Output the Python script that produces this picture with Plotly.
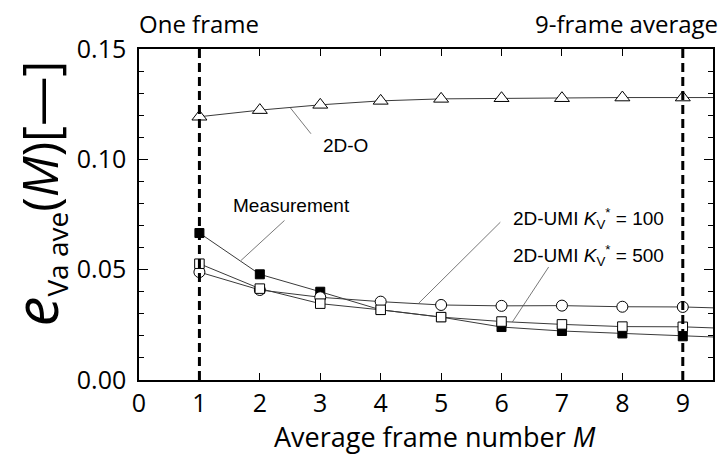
import plotly.graph_objects as go

M = [1, 2, 3, 4, 5, 6, 7, 8, 9]
M_line = [1, 2, 3, 4, 5, 6, 7, 8, 9, 9.5]

measurement = [0.0666, 0.0479, 0.0400, 0.0318, 0.0285, 0.0240, 0.0222, 0.0211, 0.0198]
measurement_tail = 0.0195
umi100 = [0.0489, 0.0408, 0.0375, 0.0355, 0.0340, 0.0336, 0.0337, 0.0332, 0.0331]
umi100_tail = 0.0327
umi500 = [0.0527, 0.0414, 0.0346, 0.0318, 0.0285, 0.0265, 0.0252, 0.0242, 0.0241]
umi500_tail = 0.0236
o2d = [0.1193, 0.1223, 0.1247, 0.1265, 0.1274, 0.1277, 0.1277, 0.1280, 0.1280]
o2d_tail = 0.1280

x_ticks = [0, 1, 2, 3, 4, 5, 6, 7, 8, 9]
y_ticks = [0.00, 0.05, 0.10, 0.15]
y_tick_labels = ["0.00", "0.05", "0.10", "0.15"]
frame_marks = [1, 9]

LINE = "#3a3a3a"
TICKFONT = "Open Sans"
ANNFONT = "Liberation Sans, Arial"

fig = go.Figure()

series = [
    ("Measurement", measurement, measurement_tail, "square", 9, "black"),
    ("2D-UMI K=100", umi100, umi100_tail, "circle", 11, "white"),
    ("2D-UMI K=500", umi500, umi500_tail, "square", 9.5, "white"),
    ("2D-O", o2d, o2d_tail, "triangle-up", 13, "white"),
]
for name, vals, tail, sym, size, fill in series:
    fig.add_trace(go.Scatter(x=M_line, y=vals + [tail], mode="lines",
                             line=dict(color=LINE, width=1), showlegend=False,
                             hoverinfo="skip"))
for name, vals, tail, sym, size, fill in series:
    fig.add_trace(go.Scatter(x=M, y=vals, mode="markers", name=name,
                             marker=dict(symbol=sym, size=size, color=fill,
                                         line=dict(color="black", width=1)),
                             showlegend=False, cliponaxis=False))

for fm in frame_marks:
    fig.add_shape(type="line", xref="x", yref="y", x0=fm, x1=fm, y0=0, y1=0.15,
                  line=dict(color="black", width=3, dash="9px,5px"), layer="above")

# pointer lines (text -> curve)
pointers = [
    ((2.846, 0.1116), (2.50, 0.1235)),
    ((2.408, 0.0723), (1.689, 0.0542)),
    ((5.98, 0.0715), (4.626, 0.0347)),
    ((6.78, 0.0512), (6.18, 0.0263)),
]
for (xa, ya), (xb, yb) in pointers:
    fig.add_shape(type="line", xref="x", yref="y", x0=xa, y0=ya, x1=xb, y1=yb,
                  line=dict(color="#555555", width=0.8))

labels = [
    ("2D-O", 3.416, 0.1062, "center"),
    ("Measurement", 2.516, 0.0791, "center"),
    ("2D-UMI <i>K</i><sub>V</sub><sup>*</sup> = 100", 6.15, 0.0732, "left"),
    ("2D-UMI <i>K</i><sub>V</sub><sup>*</sup> = 500", 6.15, 0.0565, "left"),
]
for txt, x, y, anc in labels:
    fig.add_annotation(text=txt, x=x, y=y, xref="x", yref="y", showarrow=False,
                       xanchor=anc, yanchor="middle",
                       font=dict(family=ANNFONT, size=19, color="black"))

fig.add_annotation(text="One frame", x=-0.004, y=1.077, xref="paper", yref="paper",
                   showarrow=False, xanchor="left", yanchor="middle",
                   font=dict(family=TICKFONT, size=24, color="black"))
fig.add_annotation(text="9-frame average", x=1.012, y=1.077, xref="paper", yref="paper",
                   showarrow=False, xanchor="right", yanchor="middle",
                   font=dict(family=TICKFONT, size=24, color="black"))

# x-axis title
fig.add_annotation(text="Average frame number <i>M</i>", x=0.516, y=-0.172,
                   xref="paper", yref="paper", showarrow=False,
                   xanchor="center", yanchor="middle",
                   font=dict(family=TICKFONT, size=27, color="black"))

# y-axis title
ytitle = ('<span style="font-size:60px"><i>e</i></span>'
          '<sub><span style="font-size:28px">Va ave</span></sub>'
          '(<i>M</i>)[—]')
fig.add_annotation(text=ytitle, x=-0.182, y=0.562, xref="paper", yref="paper",
                   showarrow=False, textangle=-90, xanchor="center", yanchor="middle",
                   font=dict(family=TICKFONT, size=49, color="black"))

fig.update_layout(
    width=725, height=454,
    margin=dict(l=139, r=12, t=49, b=74, autoexpand=False),
    paper_bgcolor="white", plot_bgcolor="white",
    showlegend=False,
)
fig.update_xaxes(range=[0, 9.5], tickvals=x_ticks, ticks="inside", ticklen=7,
                 tickwidth=1.3, tickcolor="black", showline=True, linecolor="black",
                 linewidth=1.5, mirror="allticks", showgrid=False, zeroline=False,
                 automargin=False,
                 tickfont=dict(family=TICKFONT, size=25, color="black"))
fig.update_yaxes(range=[0, 0.15], tickvals=y_ticks, ticktext=y_tick_labels,
                 ticks="inside", ticklen=9, tickwidth=1.3, tickcolor="black",
                 showline=True, linecolor="black", linewidth=1.5, mirror="allticks",
                 showgrid=False, zeroline=False, ticklabelstandoff=6, automargin=False,
                 tickfont=dict(family=TICKFONT, size=25, color="black"),
                 minor=dict(dtick=0.01, ticks="inside", ticklen=5, tickwidth=1.1,
                            tickcolor="black", showgrid=False))

fig.write_html("out.html", config={"displayModeBar": False},
               post_script="document.body.style.margin='0';")
